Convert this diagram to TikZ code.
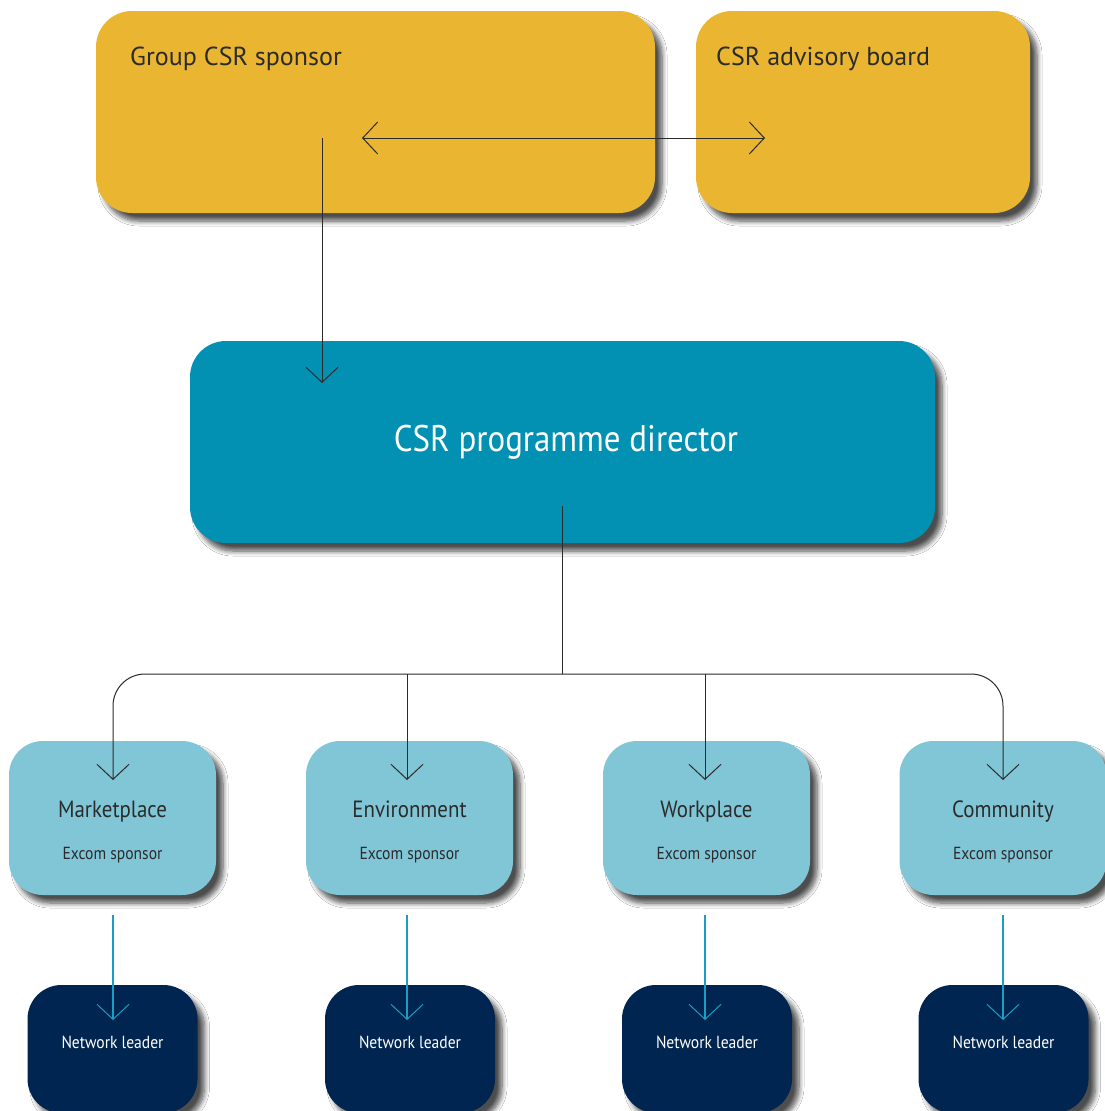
\documentclass[tikz,border=0pt]{standalone}
\usepackage{fontspec}
\setmainfont{PT Sans}
\newfontfamily\condfont[FakeStretch=0.89]{PT Sans}
\usetikzlibrary{arrows.meta,shadows.blur}
\definecolor{gold}{HTML}{EAB632}
\definecolor{teal}{HTML}{0291B3}
\definecolor{lightb}{HTML}{80C6D6}
\definecolor{navy}{HTML}{002550}
\definecolor{ink}{HTML}{2B2B2B}
\definecolor{tline}{HTML}{1A9EC2}
\tikzset{
  x=1pt, y=-1pt,
  boxshadow/.style={blur shadow={shadow xshift=7pt, shadow yshift=-8pt, shadow blur steps=8, shadow blur radius=5pt, shadow opacity=70}},
  goldbox/.style={fill=gold, rounded corners=36pt, boxshadow, inner sep=0pt},
  dirbox/.style={fill=teal, rounded corners=36pt, boxshadow, inner sep=0pt, minimum width=745pt, minimum height=202pt},
  areabox/.style={fill=lightb, rounded corners=34pt, boxshadow, inner sep=0pt, minimum width=207pt, minimum height=154pt},
  netbox/.style={fill=navy, rounded corners=34pt, boxshadow, inner sep=0pt, minimum width=170pt, minimum height=128pt},
  vtip/.style={-{Straight Barb[length=15pt,width=32pt,line width=1pt]}},
  conn/.style={draw=ink, line width=1pt},
  tconn/.style={draw=tline, line width=1.1pt},
  headtxt/.style={font=\fontsize{26}{30}\selectfont, text=ink, inner sep=0pt, anchor=base west},
  areatxt/.style={font=\condfont\fontsize{23.5}{26}\selectfont, text=ink, inner sep=0pt, anchor=base},
  subtxt/.style={font=\condfont\fontsize{17.5}{19}\selectfont, text=ink, inner sep=0pt, anchor=base},
  nettxt/.style={font=\condfont\fontsize{17.5}{19}\selectfont, text=white, inner sep=0pt, anchor=base},
}
\begin{document}
\begin{tikzpicture}
\useasboundingbox (0,0) rectangle (1105,1111);
\clip (0,0) rectangle (1105,1111);
\fill[white] (0,0) rectangle (1105,1111);
% top boxes
\node[goldbox, minimum width=559pt, minimum height=202pt] (sponsor) at (375.5,112) {};
\node[goldbox, minimum width=334pt, minimum height=202pt] (board) at (863,112) {};
\node[headtxt] (sponsortxt) at (130,65) {Group CSR sponsor};
\node[headtxt] (boardtxt) at (716,65) {CSR advisory board};
% director
\node[dirbox] (dir) at (562.5,442) {};
\node[font=\condfont\fontsize{37}{42}\selectfont, text=white, inner sep=0pt, anchor=base] (dirtxt) at (566,451) {CSR programme director};
% area boxes
\node[areabox] (mkt) at (112.5,818) {};
\node[areabox] (env) at (409.5,818) {};
\node[areabox] (wrk) at (706.5,818) {};
\node[areabox] (com) at (1003,818) {};
\node[areatxt] (mktt) at (112.5,817) {Marketplace};
\node[areatxt] (envt) at (409.5,817) {Environment};
\node[areatxt] (wrkt) at (706.5,817) {Workplace};
\node[areatxt] (comt) at (1003,817) {Community};
\node[subtxt] (mkts) at (112.5,859) {Excom sponsor};
\node[subtxt] (envs) at (409.5,859) {Excom sponsor};
\node[subtxt] (wrks) at (706.5,859) {Excom sponsor};
\node[subtxt] (coms) at (1003,859) {Excom sponsor};
% network boxes
\node[netbox] (nA) at (112.5,1049) {};
\node[netbox] (nB) at (410,1049) {};
\node[netbox] (nC) at (707,1049) {};
\node[netbox] (nD) at (1003.5,1049) {};
\node[nettxt] (nAt) at (112.5,1048) {Network leader};
\node[nettxt] (nBt) at (410,1048) {Network leader};
\node[nettxt] (nCt) at (707,1048) {Network leader};
\node[nettxt] (nDt) at (1003.5,1048) {Network leader};
% coordinates for connectors
\coordinate (bl) at (362,138);
\coordinate (br) at (765,138);
\coordinate (sA) at (322,138);
\coordinate (sB) at (322,383);
\coordinate (dA) at (562,506);
\coordinate (bus) at (562,674);
\coordinate (mktin) at (113,780);
\coordinate (envin) at (407,780);
\coordinate (wrkin) at (705,780);
\coordinate (comin) at (1003,780);
\coordinate (envtop) at (407,674);
\coordinate (wrktop) at (705,674);
\coordinate (mktout) at (113,915);
\coordinate (envout) at (407,915);
\coordinate (wrkout) at (705,915);
\coordinate (comout) at (1003,915);
\coordinate (nAin) at (113,1020);
\coordinate (nBin) at (407,1020);
\coordinate (nCin) at (705,1020);
\coordinate (nDin) at (1003,1020);
% connectors
\draw[conn, {Straight Barb[length=15pt,width=32pt,line width=1pt]}-{Straight Barb[length=15pt,width=32pt,line width=1pt]}] (bl) -- (br);
\draw[conn, vtip] (sA) -- (sB);
\draw[conn] (dA) -- (bus);
\draw[conn, vtip, rounded corners=32pt] (bus) -| (mktin);
\draw[conn, vtip, rounded corners=32pt] (bus) -| (comin);
\draw[conn, vtip] (envtop) -- (envin);
\draw[conn, vtip] (wrktop) -- (wrkin);
\draw[tconn, vtip] (mktout) -- (nAin);
\draw[tconn, vtip] (envout) -- (nBin);
\draw[tconn, vtip] (wrkout) -- (nCin);
\draw[tconn, vtip] (comout) -- (nDin);
\end{tikzpicture}
\end{document}
